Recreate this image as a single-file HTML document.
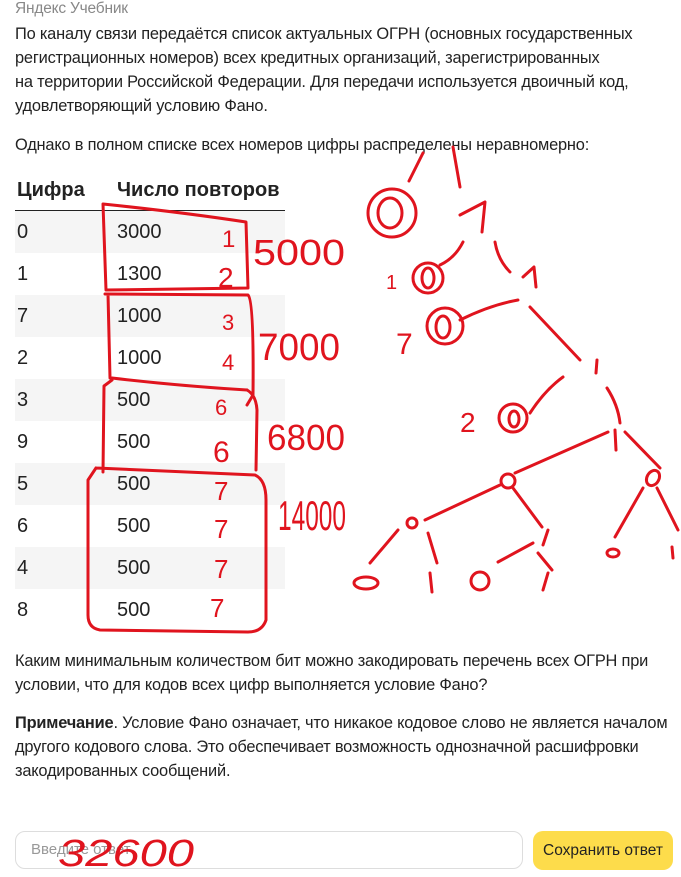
<!DOCTYPE html>
<html><head><meta charset="utf-8">
<style>
body{margin:0;width:681px;height:877px;background:#fff;font-family:"Liberation Sans","DejaVu Sans",sans-serif;color:#222;position:relative;overflow:hidden}
.t{position:absolute;left:15px;font-size:16.4px;line-height:24px;letter-spacing:-0.2px;white-space:nowrap}
table{position:absolute;left:15px;top:170px;width:270px;border-collapse:collapse;font-size:20px}
th{text-align:left;font-weight:bold;height:40px;border-bottom:1.5px solid #222;padding:0 0 0 2px;font-size:20px}
td{height:42px;padding:0 0 0 2px}
tr.s td{background:#f5f5f5}
#ann{position:absolute;left:0;top:0}
</style></head><body>
<div class="t" style="top:-3px;color:#888;font-size:15.5px">Яндекс Учебник</div>
<div class="t" style="top:22px;width:650px">По каналу связи передаётся список актуальных ОГРН (основных государственных<br>регистрационных номеров) всех кредитных организаций, зарегистрированных<br>на территории Российской Федерации. Для передачи используется двоичный код,<br>удовлетворяющий условию Фано.</div>
<div class="t" style="top:133px">Однако в полном списке всех номеров цифры распределены неравномерно:</div>
<table>
<tr><th style="width:98px">Цифра</th><th>Число повторов</th></tr>
<tr class="s"><td>0</td><td>3000</td></tr>
<tr><td>1</td><td>1300</td></tr>
<tr class="s"><td>7</td><td>1000</td></tr>
<tr><td>2</td><td>1000</td></tr>
<tr class="s"><td>3</td><td>500</td></tr>
<tr><td>9</td><td>500</td></tr>
<tr class="s"><td>5</td><td>500</td></tr>
<tr><td>6</td><td>500</td></tr>
<tr class="s"><td>4</td><td>500</td></tr>
<tr><td>8</td><td>500</td></tr>
</table>
<div class="t" style="top:649px">Каким минимальным количеством бит можно закодировать перечень всех ОГРН при<br>условии, что для кодов всех цифр выполняется условие Фано?</div>
<div class="t" style="top:711px"><b>Примечание</b>. Условие Фано означает, что никакое кодовое слово не является началом<br>другого кодового слова. Это обеспечивает возможность однозначной расшифровки<br>закодированных сообщений.</div>
<div style="position:absolute;left:15px;top:831px;width:508px;height:38px;border:1px solid #ddd;border-radius:10px;box-sizing:border-box;font-size:15px;color:#999;line-height:36px;padding-left:15px">Введите ответ</div>
<div style="position:absolute;left:533px;top:831px;width:140px;height:39px;background:#fddc4b;border-radius:10px;font-size:15.5px;line-height:39px;text-align:center;color:#222">Сохранить ответ</div>
<svg id="ann" width="681" height="877" fill="none" stroke="#e0141e" stroke-width="3" stroke-linecap="round" stroke-linejoin="round">
<path d="M103 204 Q180 212 246 222 L248 288 L106 290 L103 204"/>
<path d="M105 294 L248 295 Q254 300 253 395 L247 405 M112 378 Q180 386 247 390 M108 294 L110 378"/>
<path d="M112 380 L104 386 L103 472 M247 390 Q256 395 257 410 L256 470"/>
<path d="M96 468 Q180 472 255 475 Q266 480 266 500 L266 620 Q262 632 248 632 L100 630 Q88 628 88 615 L88 480 L96 468"/>
<g fill="#e0141e" stroke="none" font-family="Liberation Sans,sans-serif">
<text x="222" y="247" font-size="24">1</text><text x="218" y="287" font-size="28">2</text>
<text x="222" y="330" font-size="22">3</text><text x="222" y="370" font-size="22">4</text>
<text x="215" y="415" font-size="22">6</text><text x="213" y="462" font-size="30">6</text>
<text x="214" y="500" font-size="26">7</text><text x="214" y="538" font-size="26">7</text>
<text x="214" y="578" font-size="26">7</text><text x="210" y="617" font-size="26">7</text>
<text x="253" y="265" font-size="36" textLength="92" lengthAdjust="spacingAndGlyphs">5000</text>
<text x="258" y="360" font-size="38" textLength="82" lengthAdjust="spacingAndGlyphs">7000</text>
<text x="267" y="450" font-size="36" textLength="78" lengthAdjust="spacingAndGlyphs">6800</text>
<text x="278" y="530" font-size="42" textLength="68" lengthAdjust="spacingAndGlyphs">14000</text>
<text x="58" y="866" font-size="38" font-style="italic" textLength="136" lengthAdjust="spacingAndGlyphs">32600</text>
<text x="460" y="432" font-size="28">2</text>
<text x="396" y="354" font-size="30">7</text>
<text x="386" y="289" font-size="20">1</text>
</g>
<path d="M423 153 L409 181 M453 147 L460 187"/>
<circle cx="392" cy="213" r="24"/><ellipse cx="390" cy="213" rx="12" ry="15"/>
<path d="M460 215 L485 202 L482 232"/>
<path d="M463 242 Q455 258 440 265"/>
<circle cx="428" cy="278" r="15"/><ellipse cx="428" cy="278" rx="6" ry="10"/>
<path d="M495 242 Q498 260 510 272 M523 277 L534 267 L536 287"/>
<path d="M518 300 Q490 305 460 320"/>
<circle cx="445" cy="326" r="18"/><ellipse cx="443" cy="327" rx="7" ry="11"/>
<path d="M530 307 L580 360 M597 360 L596 373 M563 377 Q545 390 530 413"/>
<circle cx="513" cy="418" r="14"/><ellipse cx="514" cy="419" rx="5" ry="8"/>
<path d="M607 388 Q618 405 620 423 M615 430 L616 450 M608 432 L515 473 M625 432 L660 468"/>
<circle cx="508" cy="481" r="7"/>
<path d="M500 485 L425 520"/><circle cx="412" cy="523" r="5"/>
<path d="M513 488 L542 527"/>
<ellipse cx="653" cy="478" rx="6" ry="8" transform="rotate(30 653 478)"/>
<path d="M643 488 L615 537 M657 488 L678 530"/>
<ellipse cx="613" cy="553" rx="6" ry="4"/><path d="M672 547 L673 558"/>
<path d="M398 530 L370 563 M428 533 L437 563 M548 530 L543 545 M533 543 L498 562 M538 553 L552 570"/>
<ellipse cx="366" cy="583" rx="12" ry="6"/><path d="M430 573 L432 592"/>
<ellipse cx="480" cy="581" rx="9" ry="9"/><path d="M548 573 L543 590"/>
</svg>
</body></html>
